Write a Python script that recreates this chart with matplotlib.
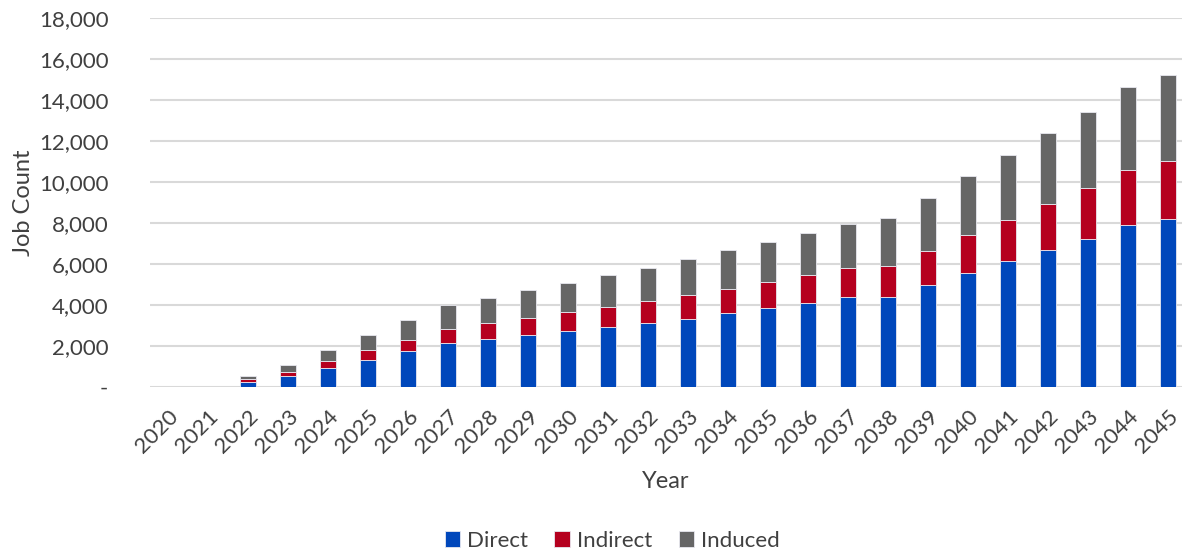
import matplotlib.pyplot as plt
from matplotlib.ticker import FuncFormatter
import numpy as np

years = [str(y) for y in range(2020, 2046)]
direct = [0, 0, 250, 540, 930, 1320, 1730, 2120, 2310, 2510, 2700, 2900, 3110,
          3320, 3580, 3830, 4090, 4360, 4380, 4950, 5530, 6120, 6660, 7220, 7890, 8200]
indirect = [0, 0, 110, 190, 340, 490, 560, 710, 810, 860, 940, 1000, 1090,
            1140, 1200, 1290, 1360, 1420, 1530, 1690, 1870, 2030, 2270, 2460, 2670, 2800]
induced = [0, 0, 170, 330, 510, 720, 950, 1140, 1210, 1340, 1430, 1530, 1610,
           1760, 1870, 1950, 2060, 2180, 2330, 2590, 2880, 3170, 3450, 3740, 4065, 4210]

plt.rcParams['font.family'] = ['Lato', 'DejaVu Sans']
text_color = '#404040'

fig = plt.figure(figsize=(11.82, 5.56), dpi=100)
ax = fig.add_axes([150 / 1182, 1 - 386.7 / 556, 1 - 150 / 1182, (386.7 - 18) / 556])

x = np.arange(len(years))
d = np.array(direct)
i = np.array(indirect)
n = np.array(induced)
w = 0.4
edge = dict(edgecolor='#e8e8f0', linewidth=0.6)
ax.bar(x, d, w, color='#0047BB', label='Direct', **edge)
ax.bar(x, i, w, bottom=d, color='#B5001F', label='Indirect', **edge)
ax.bar(x, n, w, bottom=d + i, color='#666666', label='Induced', **edge)

ax.set_ylim(0, 18000)
ax.set_xlim(-0.45, 25.35)
ax.set_yticks(range(0, 18001, 2000))
ax.yaxis.set_major_formatter(FuncFormatter(lambda v, p: '-' if v == 0 else f'{int(v):,}'))
ax.grid(axis='y', color='#d9d9d9', linewidth=1.5)
ax.set_axisbelow(True)
for s in ax.spines.values():
    s.set_visible(False)
ax.tick_params(length=0, labelsize=16, colors=text_color)
ax.tick_params(axis='y', pad=30)
ax.tick_params(axis='x', pad=14)
ax.set_xticks(x)
ax.set_xticklabels(years, rotation=45, ha='right', rotation_mode='anchor')

ax.set_ylabel('Job Count', fontsize=17, color=text_color)
ax.yaxis.set_label_coords(-0.112, 0.5)
ax.set_xlabel('Year', fontsize=17, color=text_color)
ax.xaxis.set_label_coords(0.5, -0.228)

fig.legend(loc='center', bbox_to_anchor=(612 / 1182, 15 / 556), ncol=3, frameon=False,
           fontsize=16, handlelength=0.7, handleheight=0.7, handletextpad=0.3,
           columnspacing=1.2, labelcolor=text_color)

fig.savefig('out.png', dpi=100)
